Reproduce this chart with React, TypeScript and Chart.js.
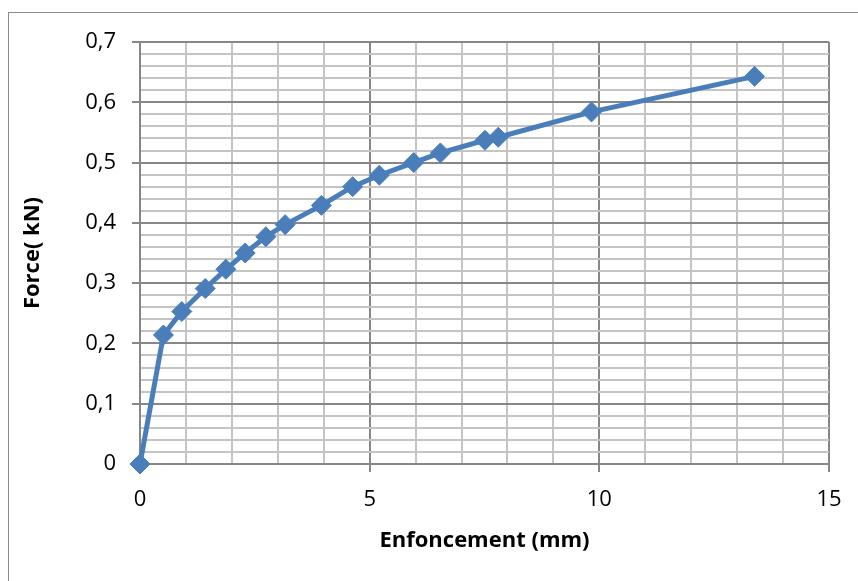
import React, { useEffect, useRef } from "react";
import { Chart, registerables } from "chart.js";

Chart.register(...registerables);

const enfoncement = [0, 0.51, 0.91, 1.42, 1.87, 2.29, 2.74, 3.16, 3.95, 4.63, 5.21, 5.96, 6.54, 7.51, 7.8, 9.83, 13.38];
const force = [0, 0.214, 0.253, 0.291, 0.323, 0.35, 0.377, 0.397, 0.429, 0.46, 0.479, 0.5, 0.516, 0.537, 0.542, 0.584, 0.643];

const xTitle = "Enfoncement (mm)";
const yTitle = "Force( kN)";

const MAJOR = "#878787";
const MINOR = "#c4c4c4";
const BLUE = "#4a7ebb";
const FONT = "'Open Sans', 'Noto Sans', sans-serif";

const isMajorX = (v: number) => Math.abs(v / 5 - Math.round(v / 5)) < 1e-6;
const isMajorY = (v: number) => Math.abs(v * 10 - Math.round(v * 10)) < 1e-6;

export default function App() {
  const ref = useRef<HTMLCanvasElement | null>(null);

  useEffect(() => {
    if (!ref.current) return;
    const points = enfoncement.map((x, i) => ({ x, y: force[i] }));
    const chart = new Chart(ref.current, {
      type: "scatter",
      data: {
        datasets: [
          {
            data: points,
            showLine: true,
            borderColor: BLUE,
            backgroundColor: BLUE,
            borderWidth: 5,
            pointStyle: "rectRot",
            pointRadius: 10,
            pointBorderWidth: 1,
            pointBorderColor: BLUE,
            pointBackgroundColor: BLUE,
            clip: false as any,
          },
        ],
      },
      options: {
        responsive: false,
        animation: false,
        devicePixelRatio: 1,
        layout: { padding: { top: 42, right: 29, left: 0, bottom: 0 } },
        plugins: { legend: { display: false }, tooltip: { enabled: false } },
        scales: {
          x: {
            type: "linear",
            min: 0,
            max: 15,
            afterFit: (s: any) => {
              s.height = 117;
            },
            ticks: {
              stepSize: 1,
              autoSkip: false,
              maxRotation: 0,
              minRotation: 0,
              padding: 15,
              color: "#000",
              font: { family: FONT, size: 22 },
              callback: (v: any) => (isMajorX(Number(v)) ? String(Math.round(Number(v))) : ""),
            },
            grid: {
              color: (c: any) => (isMajorX(c.tick.value) ? MAJOR : MINOR),
              tickColor: (c: any) => (isMajorX(c.tick.value) ? MAJOR : "rgba(0,0,0,0)"),
              lineWidth: 2,
              tickWidth: 2,
              tickLength: 8,
            },
            border: { display: true, color: MAJOR, width: 2 },
            title: {
              display: true,
              text: xTitle,
              color: "#000",
              font: { family: FONT, size: 22, weight: "bold" },
              padding: { top: 0, bottom: 27 },
            },
          },
          y: {
            type: "linear",
            min: 0,
            max: 0.7,
            afterFit: (s: any) => {
              s.width = 140;
            },
            ticks: {
              stepSize: 0.02,
              autoSkip: false,
              padding: 16,
              color: "#000",
              font: { family: FONT, size: 22 },
              callback: (v: any) => {
                const n = Number(v);
                if (!isMajorY(n)) return "";
                const r = Math.round(n * 10) / 10;
                return r === 0 ? "0" : r.toFixed(1).replace(".", ",");
              },
            },
            grid: {
              color: (c: any) => (isMajorY(c.tick.value) ? MAJOR : MINOR),
              tickColor: (c: any) => (isMajorY(c.tick.value) ? MAJOR : "rgba(0,0,0,0)"),
              lineWidth: 2,
              tickWidth: 2,
              tickLength: 8,
            },
            border: { display: true, color: MAJOR, width: 2 },
            title: {
              display: true,
              text: yTitle,
              color: "#000",
              font: { family: FONT, size: 22, weight: "bold" },
              padding: { top: 20, bottom: 0 },
            },
          },
        },
      },
    });
    return () => chart.destroy();
  }, []);

  return (
    <div style={{ position: "absolute", left: 0, top: 0, width: 858, height: 581, overflow: "hidden", background: "#fff" }}>
      <div
        style={{
          position: "absolute",
          left: 8,
          top: 12,
          width: 1000,
          height: 800,
          border: "1px solid #8c8c8c",
          boxSizing: "border-box",
        }}
      />
      <canvas ref={ref} width={858} height={581} style={{ position: "absolute", left: 0, top: 0 }} />
    </div>
  );
}
